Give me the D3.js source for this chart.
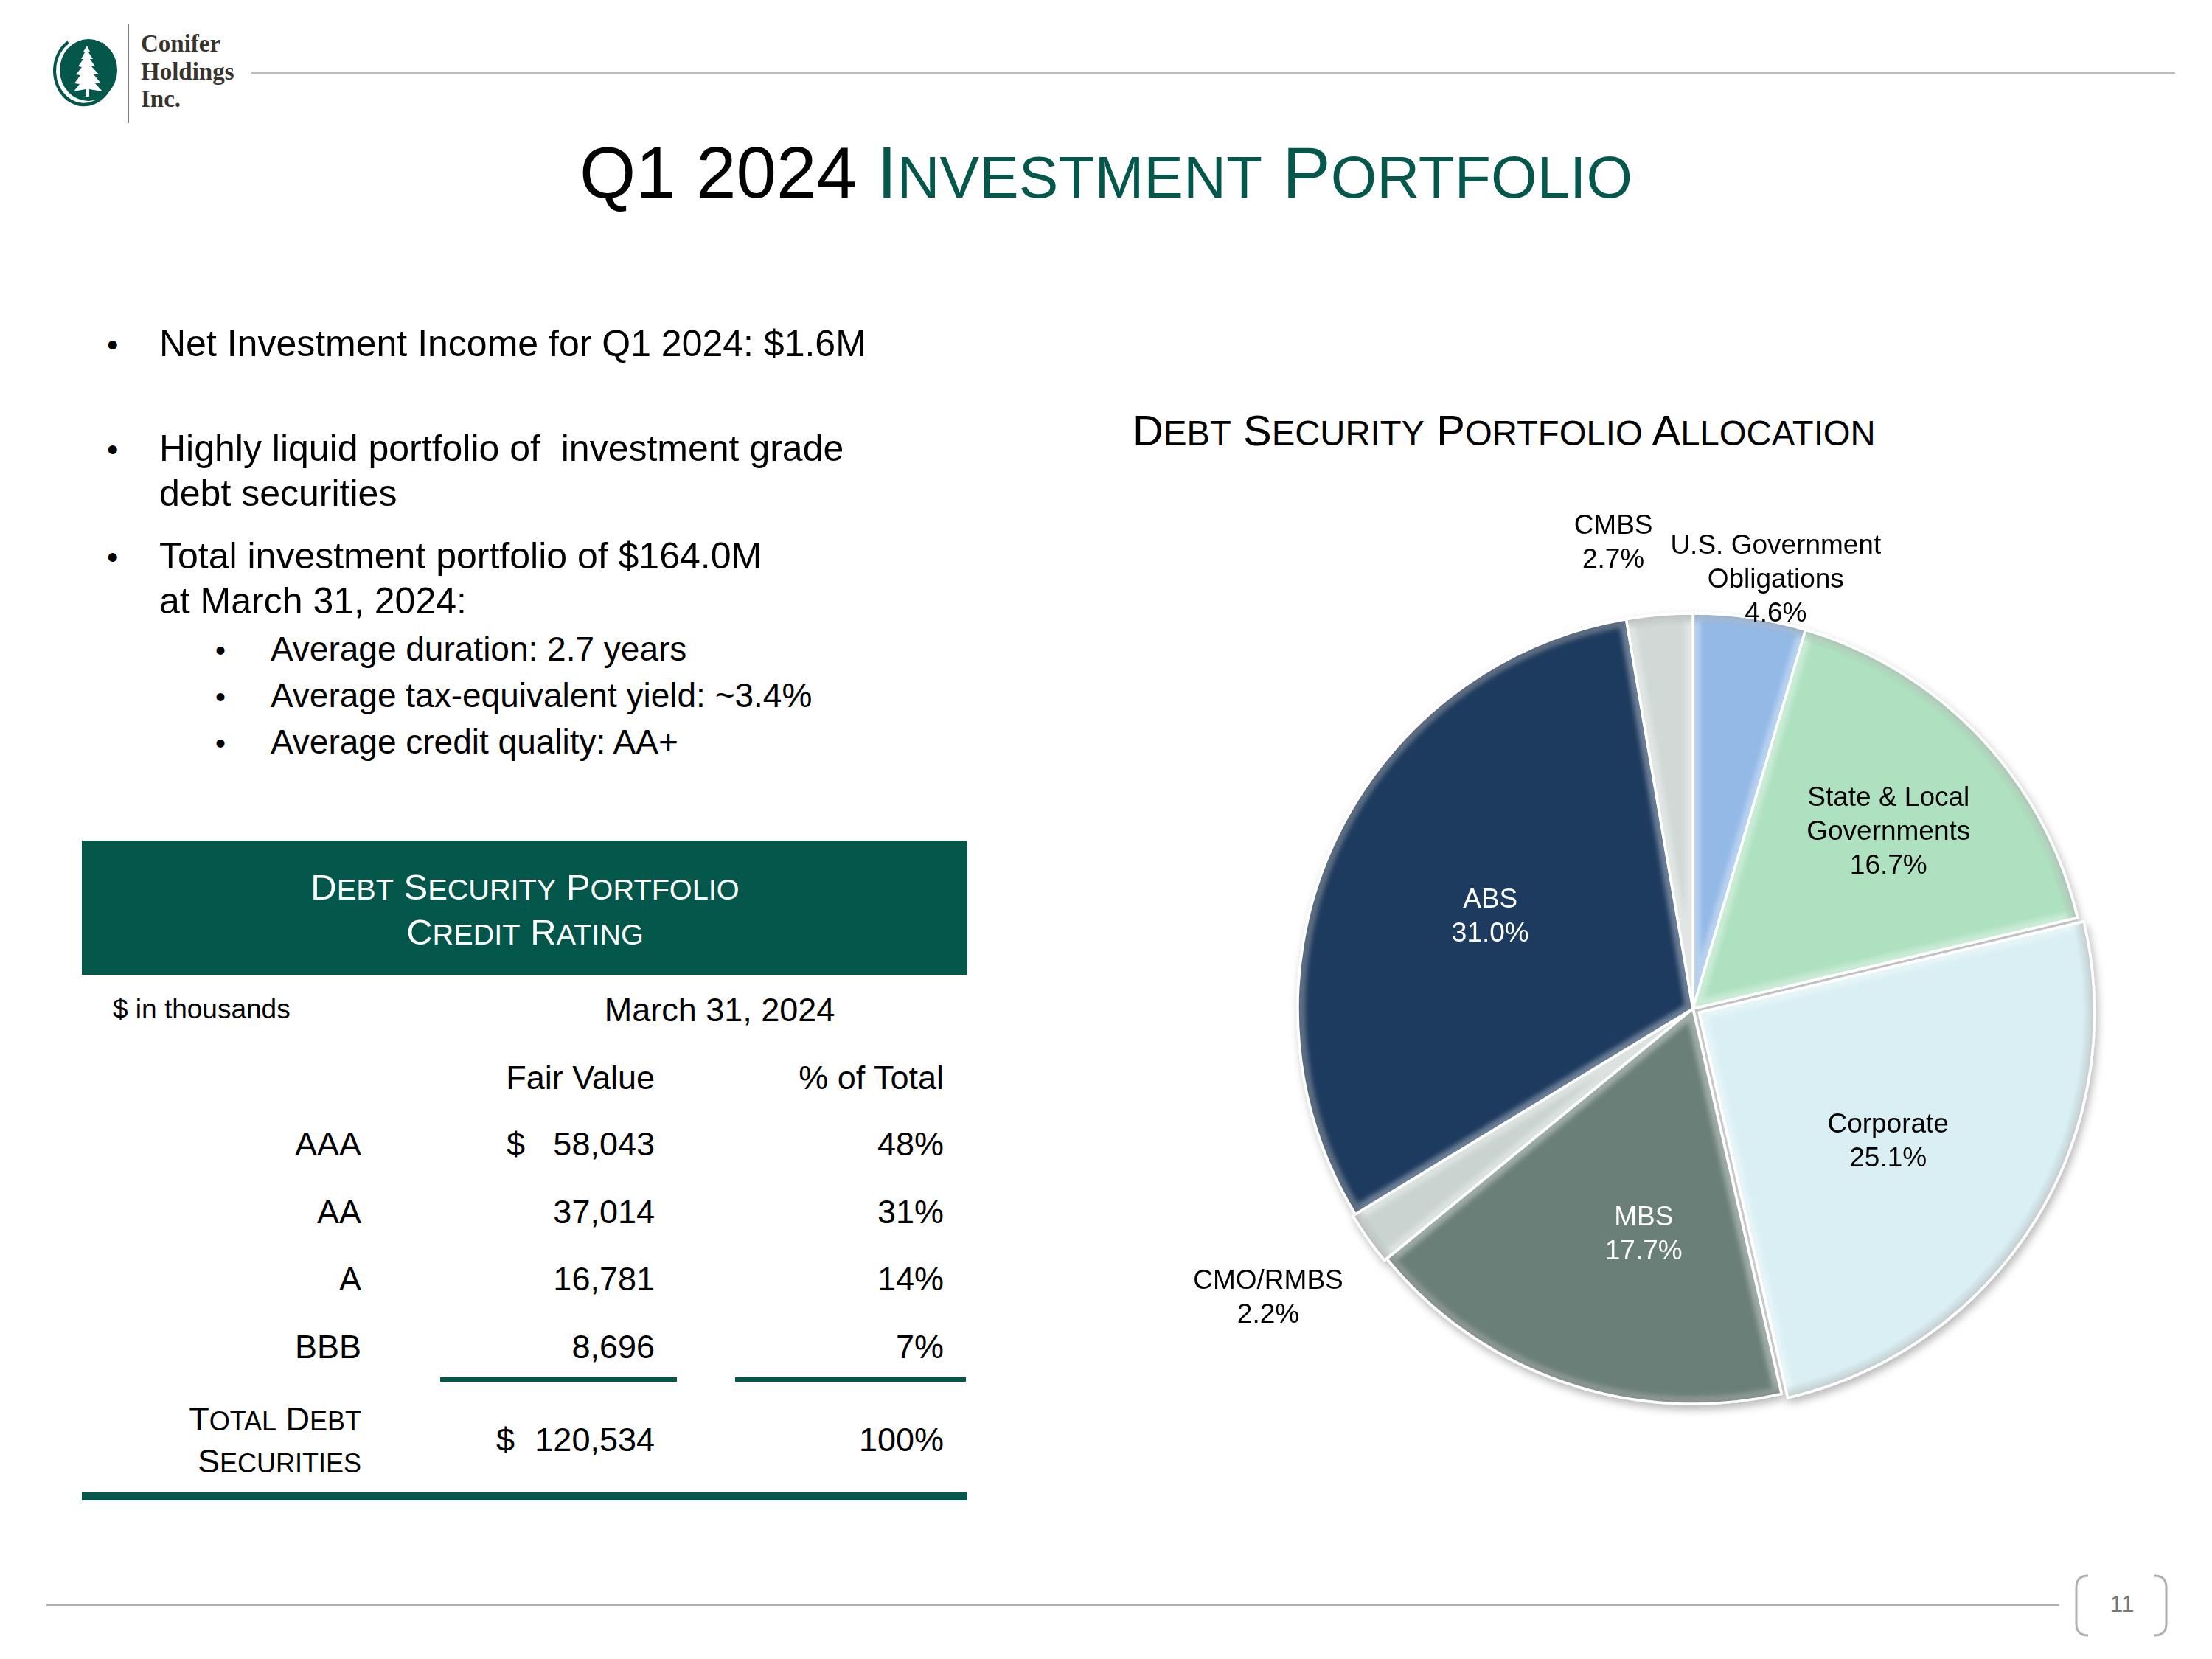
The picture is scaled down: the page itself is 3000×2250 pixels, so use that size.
<!DOCTYPE html>
<html><head><meta charset="utf-8">
<script src="https://cdn.jsdelivr.net/npm/d3@7"></script>
<style>html,body{margin:0;padding:0;background:#fff}svg{display:block}</style>
</head><body>
<script>
// ---------- data ----------
const sliceLabels = ["U.S. Government\nObligations", "State & Local\nGovernments", "Corporate", "MBS", "CMO/RMBS", "ABS", "CMBS"];
const sliceValues = [4.6, 16.7, 25.1, 17.7, 2.2, 31.0, 2.7];
const sliceColors = ["#93b9e7", "#aee1c0", "#d9eff4", "#6b7f78", "#c9d3d0", "#1d3a5e", "#d1d9d7"];
const ratings = ["AAA", "AA", "A", "BBB"];
const fairValues = [58043, 37014, 16781, 8696];
const pctOfTotal = [48, 31, 14, 7];
const totalFairValue = 120534;
const totalPct = 100;
const bulletLines = [
  ["Net Investment Income for Q1 2024: $1.6M"],
  ["Highly liquid portfolio of  investment grade", "debt securities"],
  ["Total investment portfolio of $164.0M", "at March 31, 2024:"]
];
const subBullets = ["Average duration: 2.7 years", "Average tax-equivalent yield: ~3.4%", "Average credit quality: AA+"];

// ---------- setup ----------
const W = 3000, H = 2250;
const GREEN = "#03574b";
const SANS = "'Liberation Sans', Arial, Helvetica, sans-serif";
const svg = d3.select("body").append("svg").attr("width", W).attr("height", H)
  .style("font-family", SANS);
const defs = svg.append("defs");

function smallCaps(sel, str, size, ratio) {
  const words = str.split(" ");
  words.forEach((w, i) => {
    sel.append("tspan").attr("font-size", size).text((i > 0 ? " " : "") + w[0].toUpperCase());
    if (w.length > 1) sel.append("tspan").attr("font-size", size * ratio).text(w.slice(1).toUpperCase());
  });
}

// ---------- header ----------
const logo = svg.append("g");
logo.append("path")
  .attr("d", d3.arc().innerRadius(38).outerRadius(42).startAngle(Math.PI * 0.2).endAngle(Math.PI * 1.82)()
  ).attr("transform", "translate(114,96) scale(1,1.15)").attr("fill", GREEN);
logo.append("ellipse").attr("cx", 120).attr("cy", 95).attr("rx", 39).attr("ry", 42).attr("fill", GREEN);
// tree
const treePts = [[118,62],[122,70],[120,71],[126,80],[122,80],[129,90],[124,90],[134,101],[127,101],[137,113],[129,113],[139,124],[121,121],[121,131],[116,131],[116,121],[100,124],[108,114],[101,113],[109,102],[103,101],[111,91],[106,90],[113,80],[110,80],[115,71],[113,70]];
logo.append("path").attr("d", d3.line()(treePts) + "Z").attr("fill", "#fff");
logo.append("line").attr("x1", 174).attr("x2", 174).attr("y1", 32).attr("y2", 167).attr("stroke", "#555").attr("stroke-width", 1.5);
["Conifer", "Holdings", "Inc."].forEach((t, i) => {
  logo.append("text").attr("x", 191).attr("y", 70 + i * 37.5).attr("font-family", "'Liberation Serif', 'DejaVu Serif', serif")
    .attr("font-weight", "bold").attr("font-size", 33).attr("fill", "#38332d").text(t);
});
svg.append("line").attr("x1", 341).attr("x2", 2950).attr("y1", 99).attr("y2", 99).attr("stroke", "#bdbdbd").attr("stroke-width", 3);

// title
const title = svg.append("text").attr("x", 1500).attr("y", 268).attr("text-anchor", "middle").attr("font-size", 98);
title.append("tspan").attr("fill", "#000").text("Q1 2024 ");
const tg = title.append("tspan").attr("fill", GREEN);
tg.append("tspan").text("I");
tg.append("tspan").attr("font-size", 98 * 0.82).text("NVESTMENT");
tg.append("tspan").text(" P");
tg.append("tspan").attr("font-size", 98 * 0.82).text("ORTFOLIO");

// ---------- bullets ----------
const bulletY = [483, 625, 771];
const lh = 61;
bulletLines.forEach((lines, i) => {
  svg.append("text").attr("x", 145).attr("y", bulletY[i]).attr("font-size", 44).text("•");
  lines.forEach((l, j) => {
    svg.append("text").attr("x", 216).attr("y", bulletY[i] + j * lh).attr("font-size", 50)
      .style("white-space", "pre").text(l);
  });
});
subBullets.forEach((l, i) => {
  const y = 896 + i * 63;
  svg.append("text").attr("x", 292).attr("y", y).attr("font-size", 40).text("•");
  svg.append("text").attr("x", 367).attr("y", y).attr("font-size", 46).text(l);
});

// ---------- table ----------
const tbl = svg.append("g");
tbl.append("rect").attr("x", 111).attr("y", 1140).attr("width", 1201).attr("height", 182).attr("fill", "#03564a");
const h1 = tbl.append("text").attr("x", 712).attr("y", 1220).attr("text-anchor", "middle").attr("fill", "#fff");
smallCaps(h1, "Debt Security Portfolio", 49, 0.81);
const h2 = tbl.append("text").attr("x", 712).attr("y", 1281).attr("text-anchor", "middle").attr("fill", "#fff");
smallCaps(h2, "Credit Rating", 49, 0.81);
tbl.append("text").attr("x", 153).attr("y", 1381).attr("font-size", 37).text("$ in thousands");
tbl.append("text").attr("x", 976).attr("y", 1385).attr("font-size", 45).attr("text-anchor", "middle").text("March 31, 2024");

const colLabel = 490, colVal = 888, colPct = 1280, colDollar = 687;
tbl.append("text").attr("x", colVal).attr("y", 1477).attr("font-size", 45).attr("text-anchor", "end").text("Fair Value");
tbl.append("text").attr("x", colPct).attr("y", 1477).attr("font-size", 45).attr("text-anchor", "end").text("% of Total");

const rowY = d3.scalePoint().domain(ratings).range([1567, 1842]);
const fmt = d3.format(",");
ratings.forEach((r, i) => {
  const y = rowY(r);
  tbl.append("text").attr("x", colLabel).attr("y", y).attr("font-size", 45).attr("text-anchor", "end").text(r);
  if (i === 0) tbl.append("text").attr("x", colDollar).attr("y", y).attr("font-size", 45).text("$");
  tbl.append("text").attr("x", colVal).attr("y", y).attr("font-size", 45).attr("text-anchor", "end").text(fmt(fairValues[i]));
  tbl.append("text").attr("x", colPct).attr("y", y).attr("font-size", 45).attr("text-anchor", "end").text(pctOfTotal[i] + "%");
});
tbl.append("rect").attr("x", 597).attr("y", 1868).attr("width", 321).attr("height", 6).attr("fill", "#03564a");
tbl.append("rect").attr("x", 997).attr("y", 1868).attr("width", 313).attr("height", 6).attr("fill", "#03564a");
const t1 = tbl.append("text").attr("x", colLabel).attr("y", 1940).attr("text-anchor", "end");
smallCaps(t1, "Total Debt", 45, 0.8);
const t2 = tbl.append("text").attr("x", colLabel).attr("y", 1997).attr("text-anchor", "end");
smallCaps(t2, "Securities", 45, 0.8);
tbl.append("text").attr("x", 673).attr("y", 1968).attr("font-size", 45).text("$");
tbl.append("text").attr("x", colVal).attr("y", 1968).attr("font-size", 45).attr("text-anchor", "end").text(fmt(totalFairValue));
tbl.append("text").attr("x", colPct).attr("y", 1968).attr("font-size", 45).attr("text-anchor", "end").text(totalPct + "%");
tbl.append("rect").attr("x", 111).attr("y", 2024).attr("width", 1201).attr("height", 11).attr("fill", "#03564a");

// ---------- pie ----------
const ct = svg.append("text").attr("x", 1536).attr("y", 604).attr("fill", "#000");
smallCaps(ct, "Debt Security Portfolio Allocation", 58, 0.815);

const cx = 2296, cy = 1368, R = 536;
const pie = d3.pie().sort(null).value(d => d).startAngle(0).endAngle(2 * Math.PI);
const arcs = pie(sliceValues);
const arcGen = d3.arc().innerRadius(0).outerRadius(R);
const explode = {2: 10, 4: 4};

const sh = defs.append("filter").attr("id", "shadow").attr("x", "-20%").attr("y", "-20%").attr("width", "140%").attr("height", "140%");
sh.append("feDropShadow").attr("dx", 3).attr("dy", 6).attr("stdDeviation", 6).attr("flood-color", "#000").attr("flood-opacity", 0.28);
const bl = defs.append("filter").attr("id", "soft").attr("x", "-10%").attr("y", "-10%").attr("width", "120%").attr("height", "120%");
bl.append("feGaussianBlur").attr("stdDeviation", 3);
const rg = defs.append("radialGradient").attr("id", "rim").attr("gradientUnits", "userSpaceOnUse")
  .attr("cx", 0).attr("cy", 0).attr("r", R);
[[0, "#000", 0], [0.97, "#000", 0], [1, "#000", 0.18]]
  .forEach(s => rg.append("stop").attr("offset", s[0]).attr("stop-color", s[1]).attr("stop-opacity", s[2]));

const pg = svg.append("g").attr("transform", `translate(${cx},${cy})`);
const slices = pg.append("g").attr("filter", "url(#shadow)");
arcs.forEach((a, i) => {
  const mid = (a.startAngle + a.endAngle) / 2;
  const d = explode[i] || 0;
  const g = slices.append("g").attr("transform", `translate(${d * Math.sin(mid)},${-d * Math.cos(mid)})`);
  const path = arcGen(a);
  defs.append("clipPath").attr("id", "clip" + i).append("path").attr("d", path);
  g.append("path").attr("d", path).attr("fill", sliceColors[i]);
  const bev = g.append("g").attr("clip-path", `url(#clip${i})`);
  bev.append("path").attr("d", path).attr("fill", "none").attr("stroke", "#fff").attr("stroke-opacity", 0.35)
    .attr("stroke-width", 20).attr("stroke-linejoin", "round").attr("filter", "url(#soft)");
  bev.append("path").attr("d", path).attr("fill", "url(#rim)");
  g.append("path").attr("d", path).attr("fill", "none").attr("stroke", "#fff").attr("stroke-width", 3.5).attr("stroke-linejoin", "round");
});

// labels
const nudge = [[1.11, 2.6], [0.67, 1], [0.576, 2], [0.58, -6.5], [1.29, 1.2], [0.565, 0.4], [1.2, -4.8]];
const labelColors = ["#000", "#000", "#000", "#fff", "#000", "#fff", "#000"];
const pf = d3.format(".1f");
const fs = 37, lH = 46;
arcs.forEach((a, i) => {
  const mid = (a.startAngle + a.endAngle) / 2 + nudge[i][1] * Math.PI / 180;
  const rr = R * nudge[i][0];
  const d = explode[i] || 0;
  const x = (rr + d) * Math.sin(mid), y = -(rr + d) * Math.cos(mid);
  const lines = sliceLabels[i].split("\n").concat([pf(sliceValues[i]) + "%"]);
  const t = pg.append("text").attr("text-anchor", "middle").attr("font-size", fs).attr("fill", labelColors[i]);
  lines.forEach((l, j) => {
    t.append("tspan").attr("x", x).attr("y", y - (lines.length - 1) * lH / 2 + j * lH + fs * 0.35).text(l);
  });
});

// ---------- footer ----------
svg.append("line").attr("x1", 63).attr("x2", 2793).attr("y1", 2177).attr("y2", 2177).attr("stroke", "#b0b0b0").attr("stroke-width", 2);
svg.append("path").attr("d", "M2832,2137 Q2816,2137 2816,2153 L2816,2202 Q2816,2218 2832,2218").attr("fill", "none").attr("stroke", "#b0b0b0").attr("stroke-width", 3);
svg.append("path").attr("d", "M2922,2137 Q2938,2137 2938,2153 L2938,2202 Q2938,2218 2922,2218").attr("fill", "none").attr("stroke", "#b0b0b0").attr("stroke-width", 3);
svg.append("text").attr("x", 2878).attr("y", 2186).attr("text-anchor", "middle").attr("font-size", 32).attr("fill", "#777").text("11");
</script>
</body></html>
